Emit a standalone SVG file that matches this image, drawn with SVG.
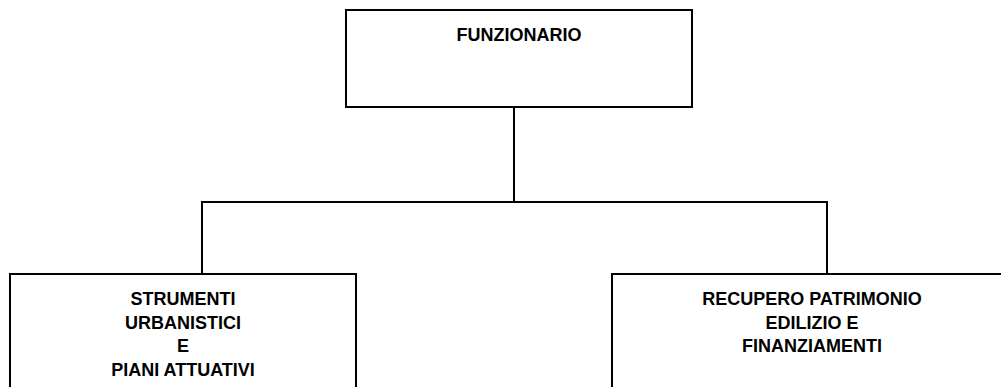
<svg xmlns="http://www.w3.org/2000/svg" width="1001" height="387" viewBox="0 0 1001 387">
<style>
.box{fill:#fff;stroke:#000;stroke-width:2}
.conn{fill:none;stroke:#000;stroke-width:2}
.t{font-family:"Liberation Sans",Arial,sans-serif;font-weight:bold;font-size:18px;fill:#000;text-anchor:middle}
</style>
<rect width="1001" height="387" fill="#fff"/>
<g id="connectors">
<path class="conn" d="M514,107 V202 M202,274 V202 H827 V274"/>
</g>
<g id="funzionario">
<rect class="box" x="346" y="10" width="346" height="97"/>
<text class="t" x="519" y="41">FUNZIONARIO</text>
</g>
<g id="strumenti">
<rect class="box" x="10" y="274" width="346" height="130"/>
<text class="t" x="183" y="305">STRUMENTI</text>
<text class="t" x="183" y="328.5">URBANISTICI</text>
<text class="t" x="183" y="352">E</text>
<text class="t" x="183" y="376">PIANI ATTUATIVI</text>
</g>
<g id="recupero">
<rect class="box" x="612" y="274" width="400" height="130"/>
<text class="t" x="812" y="305">RECUPERO PATRIMONIO</text>
<text class="t" x="812" y="328.5">EDILIZIO E</text>
<text class="t" x="812" y="352">FINANZIAMENTI</text>
</g>
</svg>
